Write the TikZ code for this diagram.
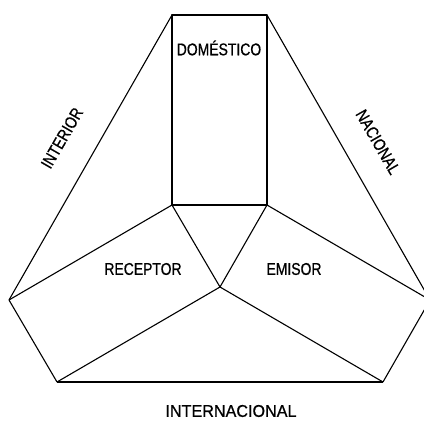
\documentclass[tikz,border=0pt]{standalone}
\usepackage{fontspec}
\usepackage{graphicx}
\newfontfamily\labfont[FakeBold=0.8]{Liberation Sans}
\newcommand{\narrowtxt}[2]{\scalebox{#1}[1]{#2}}
\begin{document}
\begin{tikzpicture}[x=1pt,y=-1pt,
  edge/.style={draw=black,line width=1.1pt,line join=round},
  lab/.style={font=\labfont\fontsize{17}{17}\selectfont,inner sep=0pt,anchor=center}]
\useasboundingbox (0,0) rectangle (424,423);
\coordinate (tl) at (172,15);
\coordinate (tr) at (267,15);
\coordinate (bl) at (172,205);
\coordinate (br) at (267,205);
\coordinate (c) at (220,287);
\coordinate (lv) at (9,300);
\coordinate (rv) at (430,300);
\coordinate (lb) at (57,382);
\coordinate (rb) at (383,382);
\draw[edge] (tl) -- (tr) -- (br) -- (bl) -- cycle;
\draw[edge] (tl) -- (lv) -- (lb);
\draw[edge] (tr) -- (rv) -- (rb);
\draw[edge,line width=1.6pt] (lb) -- (rb);
\draw[edge] (bl) -- (lv);
\draw[edge] (br) -- (rv);
\draw[edge] (bl) -- (c) -- (br);
\draw[edge] (lb) -- (c) -- (rb);
\node[lab] (dom) at (219,48) {\narrowtxt{0.82}{DOMÉSTICO}};
\node[lab] (rec) at (143,269) {\narrowtxt{0.82}{RECEPTOR}};
\node[lab] (emi) at (294,269) {\narrowtxt{0.82}{EMISOR}};
\node[lab] (int) at (231,411) {\narrowtxt{0.95}{INTERNACIONAL}};
\node[lab,rotate=60] (inr) at (62,138) {\narrowtxt{0.82}{INTERIOR}};
\node[lab,rotate=-60] (nac) at (378,142) {\narrowtxt{0.82}{NACIONAL}};
\end{tikzpicture}
\end{document}
